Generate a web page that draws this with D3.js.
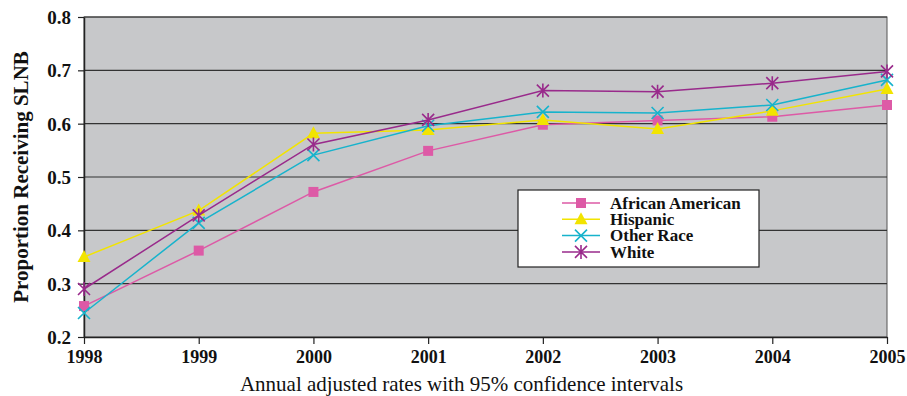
<!DOCTYPE html>
<html>
<head>
<meta charset="utf-8">
<script src="https://cdn.jsdelivr.net/npm/d3@7"></script>
<style>
  body { margin: 0; background: #fff; }
</style>
</head>
<body>
<script>
// data
const years = [1998, 1999, 2000, 2001, 2002, 2003, 2004, 2005]
const africanAmerican = [0.258, 0.362, 0.472, 0.549, 0.598, 0.606, 0.613, 0.635]
const hispanic = [0.350, 0.437, 0.582, 0.588, 0.607, 0.590, 0.624, 0.665]
const otherRace = [0.245, 0.414, 0.541, 0.596, 0.622, 0.620, 0.635, 0.682]
const white = [0.290, 0.428, 0.561, 0.607, 0.662, 0.660, 0.676, 0.698]
const yTicks = [0.2, 0.3, 0.4, 0.5, 0.6, 0.7, 0.8]

const series = [
  {name: "African American", values: africanAmerican, color: "#dd5aa6", marker: "square"},
  {name: "Hispanic", values: hispanic, color: "#f2e400", marker: "triangle"},
  {name: "Other Race", values: otherRace, color: "#17b3cc", marker: "x"},
  {name: "White", values: white, color: "#992a8b", marker: "star"}
]

const serif = "'Liberation Serif'"

let margin = {top: 17, right: 20, bottom: 59, left: 84}
let W = 907, H = 396
let width = W - margin.left - margin.right
let height = H - margin.top - margin.bottom

let svg = d3.select("body").append("svg")
  .attr("width", W).attr("height", H)
let g = svg.append("g").attr("transform", "translate(" + margin.left + "," + margin.top + ")")

let x = d3.scaleLinear().domain([1998, 2005]).range([0, width])
let y = d3.scaleLinear().domain([0.2, 0.8]).range([height, 0])

// plot background
g.append("rect").attr("width", width).attr("height", height)
  .attr("fill", "#c7c8ca")
  .attr("stroke", "#555").attr("stroke-width", 1)

// grid lines
g.selectAll(".grid").data(yTicks.slice(1)).enter().append("line")
  .attr("x1", 0).attr("x2", width)
  .attr("y1", d => y(d)).attr("y2", d => y(d))
  .attr("stroke", "#333").attr("stroke-width", 1.2)

// axes
let yAxis = g.append("g")
  .call(d3.axisLeft(y).tickValues(yTicks).tickFormat(d3.format(".1f")).tickSize(6).tickSizeOuter(0))
let xAxis = g.append("g").attr("transform", "translate(0," + height + ")")
  .call(d3.axisBottom(x).tickValues(years).tickFormat(d3.format("d")).tickSize(7).tickSizeOuter(0))
for (let ax of [yAxis, xAxis]) {
  ax.select(".domain").attr("stroke", "#222").attr("stroke-width", 1.5)
  ax.selectAll(".tick line").attr("stroke", "#222").attr("stroke-width", 1.2)
  ax.selectAll("text").attr("fill", "#111").attr("font-weight", "bold")
    .style("font-family", serif)
}
yAxis.selectAll("text").attr("font-size", 19).attr("x", -13).attr("dy", "0.35em")
xAxis.selectAll("text").attr("font-size", 18).attr("y", 13)

// markers
function drawMarker(sel, m, color) {
  if (m == "square") {
    sel.append("rect").attr("x", -5).attr("y", -5).attr("width", 10).attr("height", 10).attr("fill", color)
  } else if (m == "triangle") {
    sel.append("path").attr("d", "M0,-7L6.5,5L-6.5,5Z").attr("fill", color)
  } else if (m == "x") {
    sel.append("path").attr("d", "M-6,-6L6,6M-6,6L6,-6").attr("stroke", color).attr("stroke-width", 1.6).attr("fill", "none")
  } else {
    sel.append("path").attr("d", "M-6,-6L6,6M-6,6L6,-6M0,-7L0,7").attr("stroke", color).attr("stroke-width", 1.6).attr("fill", "none")
  }
}

let line = d3.line().x((d, i) => x(years[i])).y(d => y(d))

series.forEach(s => {
  g.append("path").attr("d", line(s.values))
    .attr("fill", "none").attr("stroke", s.color).attr("stroke-width", 1.5)
  s.values.forEach((v, i) => {
    let mk = g.append("g").attr("transform", "translate(" + x(years[i]) + "," + y(v) + ")")
    drawMarker(mk, s.marker, s.color)
  })
})

// legend
let leg = svg.append("g").attr("transform", "translate(518,190)")
leg.append("rect").attr("width", 241).attr("height", 77)
  .attr("fill", "#fff").attr("stroke", "#222").attr("stroke-width", 1.2)
series.forEach((s, i) => {
  let row = leg.append("g").attr("transform", "translate(0," + (13 + i * 16.3) + ")")
  row.append("line").attr("x1", 44).attr("x2", 82).attr("stroke", s.color).attr("stroke-width", 1.5)
  let mk = row.append("g").attr("transform", "translate(63,0)")
  drawMarker(mk, s.marker, s.color)
  row.append("text").attr("x", 92).attr("dy", "0.33em")
    .attr("font-size", 17).attr("font-weight", "bold").attr("fill", "#111")
    .style("font-family", serif)
    .text(s.name)
})

// axis titles
svg.append("text").attr("x", margin.left + width / 2 - 24).attr("y", 391)
  .attr("text-anchor", "middle").attr("font-size", 21).attr("fill", "#111")
  .style("font-family", serif)
  .text("Annual adjusted rates with 95% confidence intervals")
svg.append("text").attr("transform", "translate(28,177) rotate(-90)")
  .attr("text-anchor", "middle").attr("font-size", 21).attr("font-weight", "bold").attr("fill", "#111")
  .style("font-family", serif)
  .text("Proportion Receiving SLNB")
</script>
</body>
</html>
